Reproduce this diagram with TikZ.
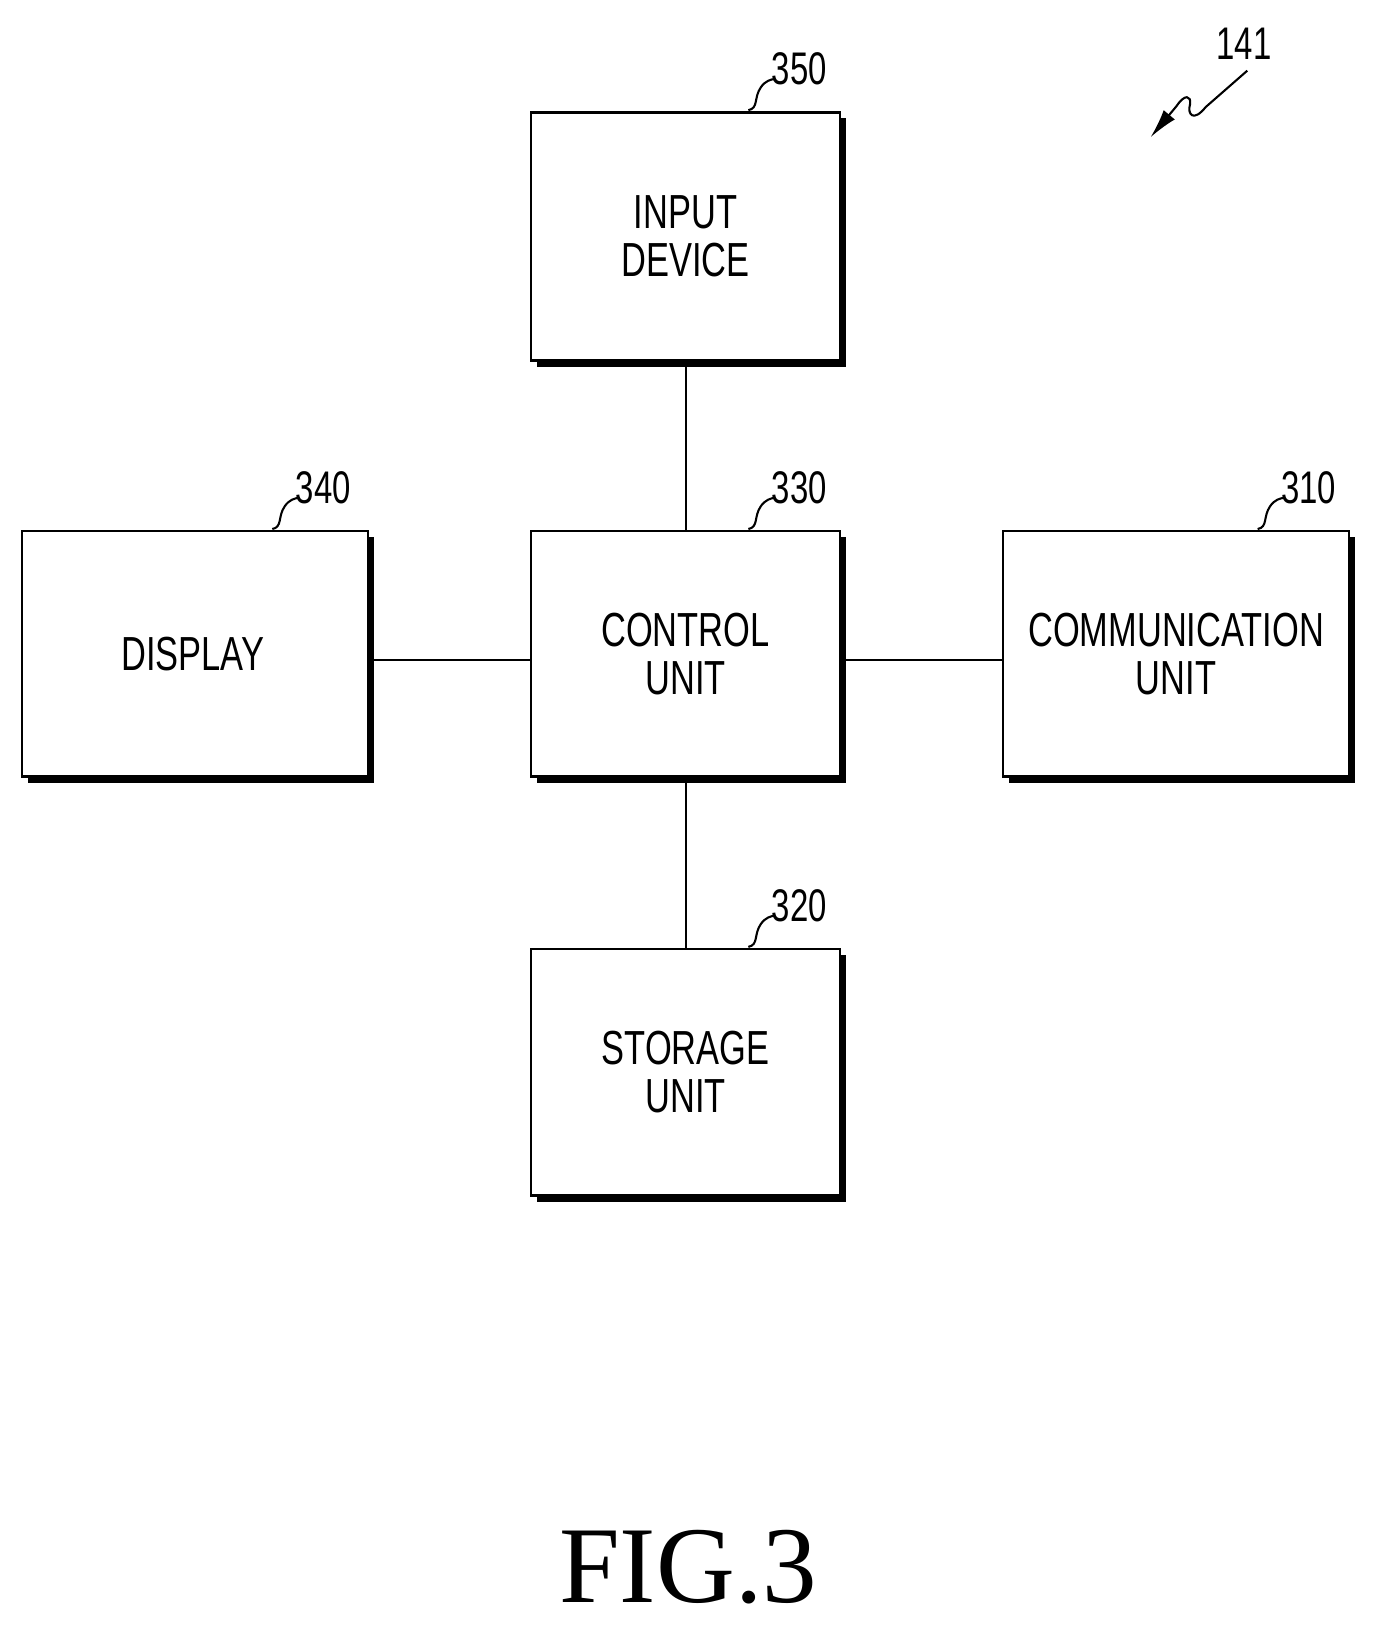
\documentclass[tikz,border=0pt]{standalone}
\usepackage{fontspec}
\setmainfont{Liberation Sans}
\newfontfamily\figfont{Liberation Serif}
\usetikzlibrary{arrows.meta}
\begin{document}
\begin{tikzpicture}[x=1pt,y=-1pt,
  box/.style={draw,line width=2.5pt,fill=white},
  lbl/.style={font=\fontsize{46}{46}\selectfont,xscale=0.72,align=center},
  num/.style={font=\fontsize{44}{44}\selectfont,xscale=0.72,anchor=west},
  ld/.style={line width=2pt}]
\useasboundingbox (0,0) rectangle (1330,1574);
\newcommand\blk[5]{%
  \fill (#1+6,#2+6) rectangle (#3+6,#4+6);
  \draw[box] (#1,#2) rectangle (#3,#4);
  \coordinate (#5) at ({(#1+#3)/2},{(#2+#4)/2});}
\draw[line width=2pt] (660,347) -- (660,913);
\draw[line width=2pt] (354,635) -- (965,635);
\blk{511}{108}{808}{347}{inp}
\blk{511}{511}{808}{747}{ctl}
\blk{21}{511}{354}{747}{dsp}
\blk{965}{511}{1298}{747}{com}
\blk{511}{913}{808}{1150}{sto}
\node[lbl] at (inp) {INPUT\\DEVICE};
\node[lbl] at (ctl) {CONTROL\\UNIT};
\node[lbl] at ([xshift=-2]dsp) {DISPLAY};
\node[lbl] at (com) {COMMUNICATION\\UNIT};
\node[lbl] at (sto) {STORAGE\\UNIT};
\foreach \x/\y/\t in {720/106/350,720/509/330,262/509/340,1210/509/310,720/911/320}{
  \draw[ld] (\x,\y) .. controls (\x+10,\y-2) and (\x+5,\y-12) .. (\x+12,\y-22) .. controls (\x+16,\y-28) and (\x+22,\y-30) .. (\x+26,\y-30);
  \node[num] at (\x+20,\y-40) {\t};}
\node[num] at (1168,42) {141};
\coordinate (a1) at (1200,68);
\coordinate (a2) at (1107,132);
\draw[ld,-{Latex[length=28,width=14]}] (a1) -- (1160,103) .. controls (1148,118) and (1142,110) .. (1145,100) .. controls (1146,92) and (1140,90) .. (1132,102) -- (a2);
\node[font=\figfont\fontsize{105}{105}\selectfont] at (662,1508) {FIG.3};
\end{tikzpicture}
\end{document}
